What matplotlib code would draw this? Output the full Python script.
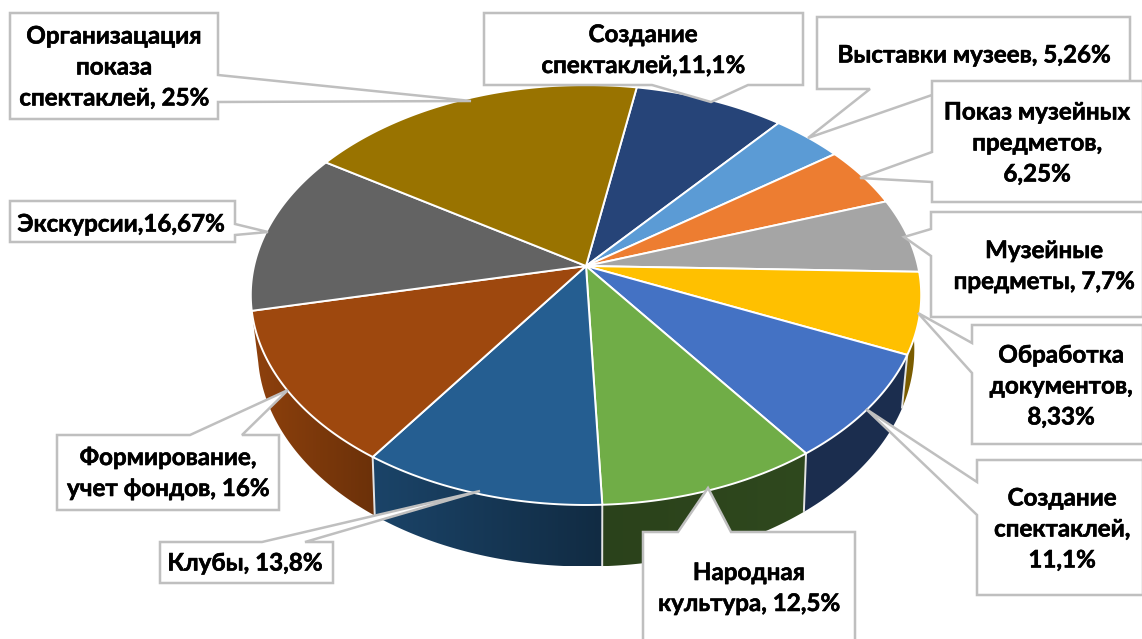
import numpy as np
import matplotlib
matplotlib.use("Agg")
import matplotlib.pyplot as plt
from matplotlib.patches import Polygon
import matplotlib.patheffects as pe

# --- data (clockwise from the top-left boundary) ---
categories = ["Создание\nспектаклей,11,1%", "Выставки музеев, 5,26%",
              "Показ музейных\nпредметов,\n6,25%", "Музейные\nпредметы, 7,7%",
              "Обработка\nдокументов,\n8,33%", "Создание\nспектаклей,\n11,1%",
              "Народная\nкультура, 12,5%", "Клубы, 13,8%",
              "Формирование,\nучет фондов, 16%", "Экскурсии,16,67%",
              "Организацация\nпоказа\nспектаклей, 25%"]
values = [11.1, 5.26, 6.25, 7.7, 8.33, 11.1, 12.5, 13.8, 16, 16.67, 25]

# --- style ---
colors = ["#264478", "#5B9BD5", "#ED7D31", "#A5A5A5", "#FFC000", "#4472C4",
          "#70AD47", "#255E91", "#9E480E", "#636363", "#997300"]
# wall brightness at the (left, right) end of each slice's side
wall_shade = [(.4, .4), (.4, .4), (.4, .4), (.4, .4), (.48, .48), (.40, .40),
              (.38, .42), (.72, .46), (.90, .68), (.9, .9), (.6, .6)]
start_deg = 10.0
LW = 1.8
EDGE = "#BFBFBF"

# callout outlines, in figure pixels
callouts = [
    [(484, 13), (803, 13), (803, 85), (748, 85), (711, 102), (652, 85), (484, 85)],
    [(817, 17), (1130, 17), (1130, 89), (932, 95), (808, 138), (870, 89), (817, 89)],
    [(932, 81), (1143, 81), (1143, 202), (932, 202), (932, 182), (860, 178), (932, 152)],
    [(931, 212), (1143, 212), (1143, 317), (931, 317), (931, 256), (904, 237), (931, 229)],
    [(972, 325), (1143, 325), (1143, 444), (972, 444), (972, 373), (918, 313), (972, 343)],
    [(977, 460), (1143, 460), (1143, 595), (977, 595), (977, 515), (866, 409), (977, 482)],
    [(643, 532), (678, 532), (708, 488), (731, 532), (855, 532), (855, 645), (643, 645)],
    [(160, 542), (262, 542), (480, 491), (305, 542), (333, 542), (333, 583), (160, 583)],
    [(57, 435), (190, 435), (288, 390), (242, 435), (279, 435), (279, 510), (57, 510)],
    [(10, 201), (235, 201), (235, 224), (268, 232), (235, 235), (235, 242), (10, 242)],
    [(10, 13), (218, 13), (218, 75), (471, 101), (218, 102), (218, 119), (10, 119)],
]
text_pos = [(643, 50), (974, 55), (1037, 143), (1044, 266), (1061, 386), (1062, 529),
            (749, 588), (245, 563), (168, 473), (121, 224), (114, 67)]


def top(theta):
    x, y = np.sin(theta), np.cos(theta)
    d = 1 + 0.138 * y
    return 586 + 332 * x / d, 266 - 206 * y / d


def bottom(theta):
    x, y = np.sin(theta), np.cos(theta)
    d = 1 + 0.152 * y
    return 586 + 324.5 * x / d, 316.5 - 212 * y / d


plt.rcParams["font.family"] = ["Lato", "Open Sans", "DejaVu Sans"]
fig = plt.figure(figsize=(11.42, 6.39), dpi=100, facecolor="white")
ax = fig.add_axes([0, 0, 1, 1])

frac = np.array(values) / np.sum(values)
edges = np.radians(start_deg + 360 * np.concatenate([[0], np.cumsum(frac)]))

# side wall: a horizontal gradient clipped to each slice's side
vis0, vis1 = np.radians(70), edges[9]
for i, (a0, a1) in enumerate(zip(edges[:-1], edges[1:])):
    lo, hi = max(a0, vis0), min(a1, vis1)
    if hi <= lo:
        continue
    t = np.linspace(lo, hi, 120)
    xu, yu = top(t)
    xl, yl = bottom(t)
    px, py = np.r_[xu, xl[::-1]], np.r_[yu, yl[::-1]]
    base = np.array(matplotlib.colors.to_rgb(colors[i]))
    fac = np.linspace(wall_shade[i][0], wall_shade[i][1], 128)
    img = (fac[:, None] * base)[None, :, :]
    im = ax.imshow(img, extent=(px.min(), px.max(), py.max(), py.min()), aspect="auto",
                   interpolation="bilinear", zorder=1)
    clip = Polygon(np.c_[px, py], closed=True, transform=ax.transData)
    im.set_clip_path(clip)
for a in edges[:-1]:
    if np.radians(100) < a < np.radians(250):
        xu, yu = top(a)
        xl, yl = bottom(a)
        ax.plot([xu, xl], [yu, yl], color="#E4E4E4", lw=1.4, zorder=2, solid_capstyle="butt")

# top faces
for i, (a0, a1) in enumerate(zip(edges[:-1], edges[1:])):
    t = np.linspace(a0, a1, 100)
    xu, yu = top(t)
    ax.fill(np.r_[586, xu], np.r_[266, yu], facecolor=colors[i], edgecolor="white",
            lw=1.4, joinstyle="round", zorder=3)

# callouts
for k, (pts, name, pos) in enumerate(zip(callouts, categories, text_pos)):
    ax.add_patch(Polygon(pts, closed=True, facecolor="white", edgecolor=EDGE, lw=LW,
                         joinstyle="miter", zorder=5 + k * .01))
    ax.text(pos[0], pos[1], name, ha="center", va="center", fontsize=17.4,
            fontweight="bold", color="black", linespacing=1.42, zorder=6 + k * .01,
            path_effects=[pe.withStroke(linewidth=0.4, foreground="black")])

ax.set_xlim(0, 1142)
ax.set_ylim(639, 0)
ax.axis("off")
fig.savefig("out.png", dpi=100, facecolor="white")
